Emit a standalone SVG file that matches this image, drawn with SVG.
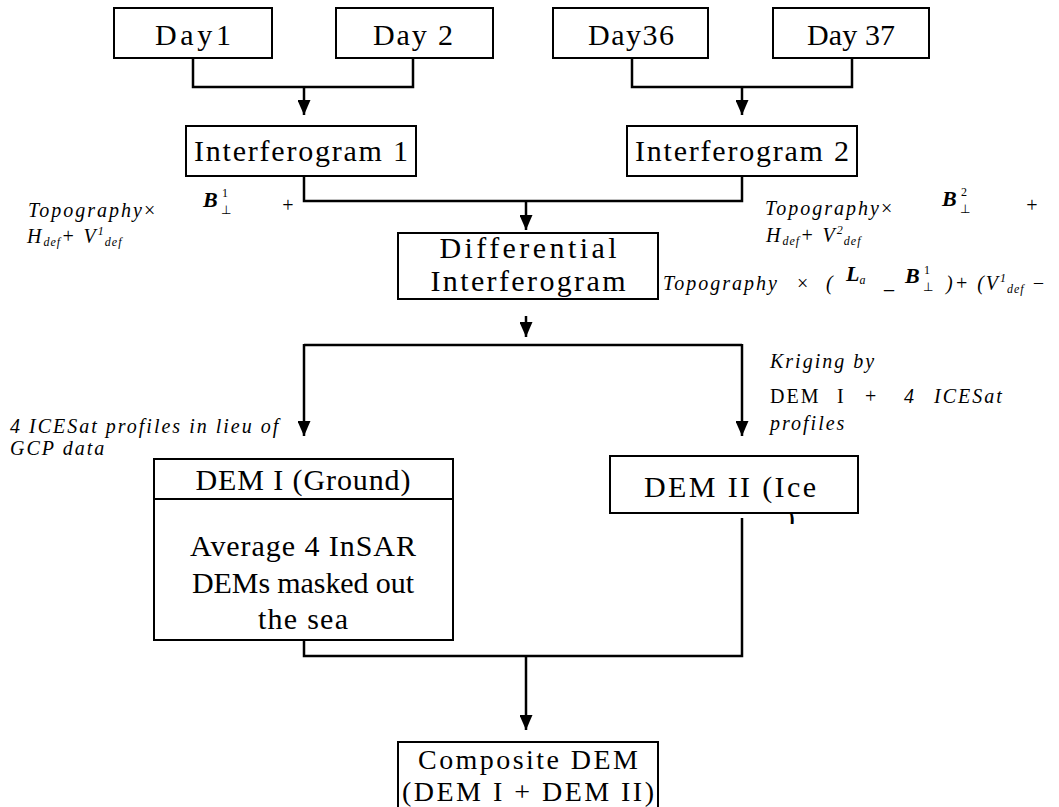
<svg xmlns="http://www.w3.org/2000/svg" width="1059" height="807" viewBox="0 0 1059 807">
<style>
.b{fill:#fff;stroke:#000;stroke-width:2}
.t{font-family:"Liberation Serif",serif;font-size:30px;fill:#000;text-anchor:middle}
.t8{font-size:28px}
.c{fill:none;stroke:#000;stroke-width:2.5}
.a{font-family:"Liberation Serif",serif;font-size:20px;font-style:italic;fill:#000;letter-spacing:2px}
.u{font-style:normal}
.bb{font-weight:bold;font-style:italic;font-size:22px;letter-spacing:0}
.s{font-size:12px;letter-spacing:1px}
</style>
<defs>
<marker id="ar" viewBox="0 0 10 10" refX="10" refY="5" markerWidth="15" markerHeight="13" markerUnits="userSpaceOnUse" orient="auto" preserveAspectRatio="none">
<path d="M0,0 L10,5 L0,10 z" fill="#000"/>
</marker>
<clipPath id="cp"><rect x="770" y="514" width="40" height="10"/></clipPath>
</defs>
<rect width="1059" height="807" fill="#fff"/>
<g id="connectors">
<path class="c" d="M193,58 V87 H413 V58"/>
<path class="c" d="M304,87 V115" marker-end="url(#ar)"/>
<path class="c" d="M632,58 V87 H852 V58"/>
<path class="c" d="M742,87 V115" marker-end="url(#ar)"/>
<path class="c" d="M304,176 V201 H742 V176"/>
<path class="c" d="M526,201 V230" marker-end="url(#ar)"/>
<path class="c" d="M526,316 V337" marker-end="url(#ar)"/>
<path class="c" d="M304,345 H742"/>
<path class="c" d="M304,344 V436" marker-end="url(#ar)"/>
<path class="c" d="M742,344 V436" marker-end="url(#ar)"/>
<path class="c" d="M304,640 V656 H742 V518"/>
<path class="c" d="M526,656 V730" marker-end="url(#ar)"/>
</g>
<g id="day1"><rect class="b" x="114" y="8" width="158" height="50"/><text class="t" x="193" y="45" textLength="76">Day1</text></g>
<g id="day2"><rect class="b" x="336" y="8" width="157" height="50"/><text class="t" x="413" y="45" textLength="80">Day 2</text></g>
<g id="day36"><rect class="b" x="553" y="8" width="155" height="50"/><text class="t" x="631" y="45" textLength="86">Day36</text></g>
<g id="day37"><rect class="b" x="773" y="8" width="156" height="50"/><text class="t" x="851" y="45" textLength="88">Day 37</text></g>
<g id="interferogram1"><rect class="b" x="186" y="126" width="230" height="50"/><text class="t" x="301" y="161" textLength="214">Interferogram 1</text></g>
<g id="interferogram2"><rect class="b" x="627" y="126" width="230" height="50"/><text class="t" x="742" y="161" textLength="214">Interferogram 2</text></g>
<g id="differential"><rect class="b" x="398" y="233" width="260" height="66"/><text class="t" x="528" y="258" textLength="177">Differential</text><text class="t" x="528" y="291" textLength="195">Interferogram</text></g>
<g id="dem1"><rect class="b" x="154" y="459" width="299" height="181"/><line x1="154" y1="499" x2="453" y2="499" stroke="#000" stroke-width="2"/>
<text class="t" x="303" y="490" textLength="215">DEM I (Ground)</text>
<text class="t" x="303" y="556" textLength="226">Average 4 InSAR</text>
<text class="t" x="303" y="593" textLength="222">DEMs masked out</text>
<text class="t" x="303" y="629" textLength="90">the sea</text></g>
<g id="dem2"><rect class="b" x="610" y="456" width="248" height="57"/><text class="t" x="730" y="497" textLength="172">DEM II (Ice</text><text class="t" x="790" y="528" clip-path="url(#cp)">)</text></g>
<g id="composite"><rect class="b" x="398" y="742" width="260" height="90"/><text class="t t8" x="528" y="769" textLength="220">Composite DEM</text><text class="t t8" x="528" y="801" textLength="252">(DEM I + DEM II)</text></g>
<g id="annotations">
<text class="a" x="28" y="217">Topography<tspan class="u">×</tspan></text>
<text class="a" x="203" y="207"><tspan class="bb">B</tspan></text><text class="a s u" x="222" y="197">1</text><text class="a s u" x="221" y="214">⊥</text>
<text class="a" x="281" y="212">+</text>
<text class="a" x="27" y="243">H<tspan class="s" dy="3">def</tspan><tspan dy="-3">+ V</tspan><tspan class="s" dy="-8">1</tspan><tspan class="s" dy="11">def</tspan></text>
<text class="a" x="765" y="215">Topography<tspan class="u">×</tspan></text>
<text class="a" x="942" y="206"><tspan class="bb">B</tspan></text><text class="a s u" x="961" y="196">2</text><text class="a s u" x="960" y="213">⊥</text>
<text class="a" x="1025" y="212">+</text>
<text class="a" x="766" y="242">H<tspan class="s" dy="3">def</tspan><tspan dy="-3">+ V</tspan><tspan class="s" dy="-8">2</tspan><tspan class="s" dy="11">def</tspan></text>
<text class="a" x="663" y="290">Topography</text>
<text class="a u" x="797" y="290">×</text>
<text class="a" x="826" y="290">(</text>
<text class="a" x="846" y="281"><tspan class="bb">L</tspan><tspan class="s" dy="3">a</tspan></text>
<text class="a" x="884" y="288">_</text>
<text class="a" x="905" y="283"><tspan class="bb">B</tspan></text><text class="a s u" x="924" y="274">1</text><text class="a s u" x="923" y="291">⊥</text>
<text class="a" x="946" y="290">)+ (V<tspan class="s" dy="-8">1</tspan><tspan class="s" dy="11">def</tspan><tspan dy="-3">  −</tspan></text>
<text class="a" x="10" y="433">4 ICESat profiles in lieu of</text>
<text class="a" x="10" y="455">GCP data</text>
<text class="a" x="770" y="368">Kriging by</text>
<text class="a u" x="770" y="403">DEM</text>
<text class="a u" x="837" y="403">I</text>
<text class="a u" x="865" y="403">+</text>
<text class="a" x="904" y="403">4</text>
<text class="a" x="934" y="403">ICESat</text>
<text class="a" x="770" y="430">profiles</text>
</g>
</svg>
